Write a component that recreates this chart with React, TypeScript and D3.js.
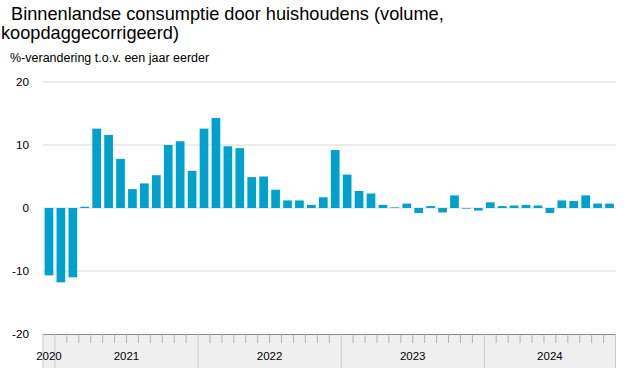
import React from "react";
import * as d3 from "d3";

const months = [
  "2020-12",
  "2021-01","2021-02","2021-03","2021-04","2021-05","2021-06","2021-07","2021-08","2021-09","2021-10","2021-11","2021-12",
  "2022-01","2022-02","2022-03","2022-04","2022-05","2022-06","2022-07","2022-08","2022-09","2022-10","2022-11","2022-12",
  "2023-01","2023-02","2023-03","2023-04","2023-05","2023-06","2023-07","2023-08","2023-09","2023-10","2023-11","2023-12",
  "2024-01","2024-02","2024-03","2024-04","2024-05","2024-06","2024-07","2024-08","2024-09","2024-10","2024-11",
];

const values = [
  -10.7,
  -11.8, -11.0, 0.2, 12.6, 11.6, 7.8, 3.0, 3.9, 5.2, 10.0, 10.6, 5.9,
  12.6, 14.3, 9.8, 9.5, 4.9, 5.0, 2.9, 1.2, 1.2, 0.5, 1.7, 9.2,
  5.3, 2.7, 2.3, 0.5, 0.1, 0.7, -0.8, 0.3, -0.7, 2.0, -0.1, -0.4,
  0.9, 0.3, 0.4, 0.5, 0.4, -0.8, 1.2, 1.1, 2.0, 0.7, 0.7,
];

const years = ["2020", "2021", "2022", "2023", "2024"];
const yTicks = [20, 10, 0, -10, -20];

const titleLines = ["Binnenlandse consumptie door huishoudens (volume,", "koopdaggecorrigeerd)"];
const subtitle = "%-verandering t.o.v. een jaar eerder";

const W = 626;
const H = 368;
const FONT = "'Liberation Sans', Arial, sans-serif";

export default function App() {
  const x = d3.scaleBand<string>().domain(months).range([43, 615.5]).paddingInner(0.27).paddingOuter(0.135);
  const y = d3.scaleLinear().domain([-20, 20]).range([334, 82]);
  const step = x.step();
  const x0 = 43;
  const bnd = (k: number) => x0 + k * step;
  const axisTop = y(-20);

  const yearSpans = years.map((yr) => {
    const idx = months.map((m, i) => (m.startsWith(yr) ? i : -1)).filter((i) => i >= 0);
    return { yr, start: bnd(idx[0]), end: bnd(idx[idx.length - 1] + 1) };
  });

  return (
    <svg width={W} height={H} style={{ position: "absolute", left: 0, top: 0, background: "#fff" }} fontFamily={FONT}>
      <text x={11} y={20} fontSize={18.2} fill="#000">{titleLines[0]}</text>
      <text x={1} y={39} fontSize={18.2} fill="#000">{titleLines[1]}</text>
      <text x={10} y={62} fontSize={12.5} fill="#000">{subtitle}</text>

      {yTicks.map((t) => (
        <g key={t}>
          {t !== -20 && (
            <line x1={43} x2={616} y1={y(t)} y2={y(t)} stroke="#d9d9d9" strokeWidth={1} />
          )}
          <text x={29} y={y(t)} dy="0.36em" textAnchor="end" fontSize={11.7} fill="#000">{t}</text>
        </g>
      ))}

      {values.map((v, i) => (
        <rect
          key={months[i]}
          x={x(months[i])}
          width={x.bandwidth()}
          y={y(Math.max(0, v))}
          height={Math.abs(y(v) - y(0))}
          fill="#00a1cd"
        />
      ))}

      <rect x={43} y={axisTop} width={bnd(months.length) - 43} height={H - axisTop} fill="#efefef" />
      <line x1={43} x2={bnd(months.length)} y1={axisTop + 0.5} y2={axisTop + 0.5} stroke="#8c8c8c" strokeWidth={1.2} />
      {months.map((m, i) =>
        i === 0 ? null : m.endsWith("-01") ? (
          <line key={m} x1={bnd(i)} x2={bnd(i)} y1={axisTop} y2={H} stroke="#c8c8c8" strokeWidth={1} />
        ) : (
          <line key={m} x1={bnd(i)} x2={bnd(i)} y1={axisTop} y2={axisTop + 9} stroke="#b0b0b0" strokeWidth={1} />
        )
      )}
      <line x1={43} x2={43} y1={axisTop} y2={H} stroke="#c8c8c8" strokeWidth={1} />
      <line x1={bnd(months.length)} x2={bnd(months.length)} y1={axisTop} y2={H} stroke="#c8c8c8" strokeWidth={1} />
      {yearSpans.map((s) => (
        <text key={s.yr} x={(s.start + s.end) / 2} y={360} textAnchor="middle" fontSize={11.5} fill="#000">{s.yr}</text>
      ))}
    </svg>
  );
}
